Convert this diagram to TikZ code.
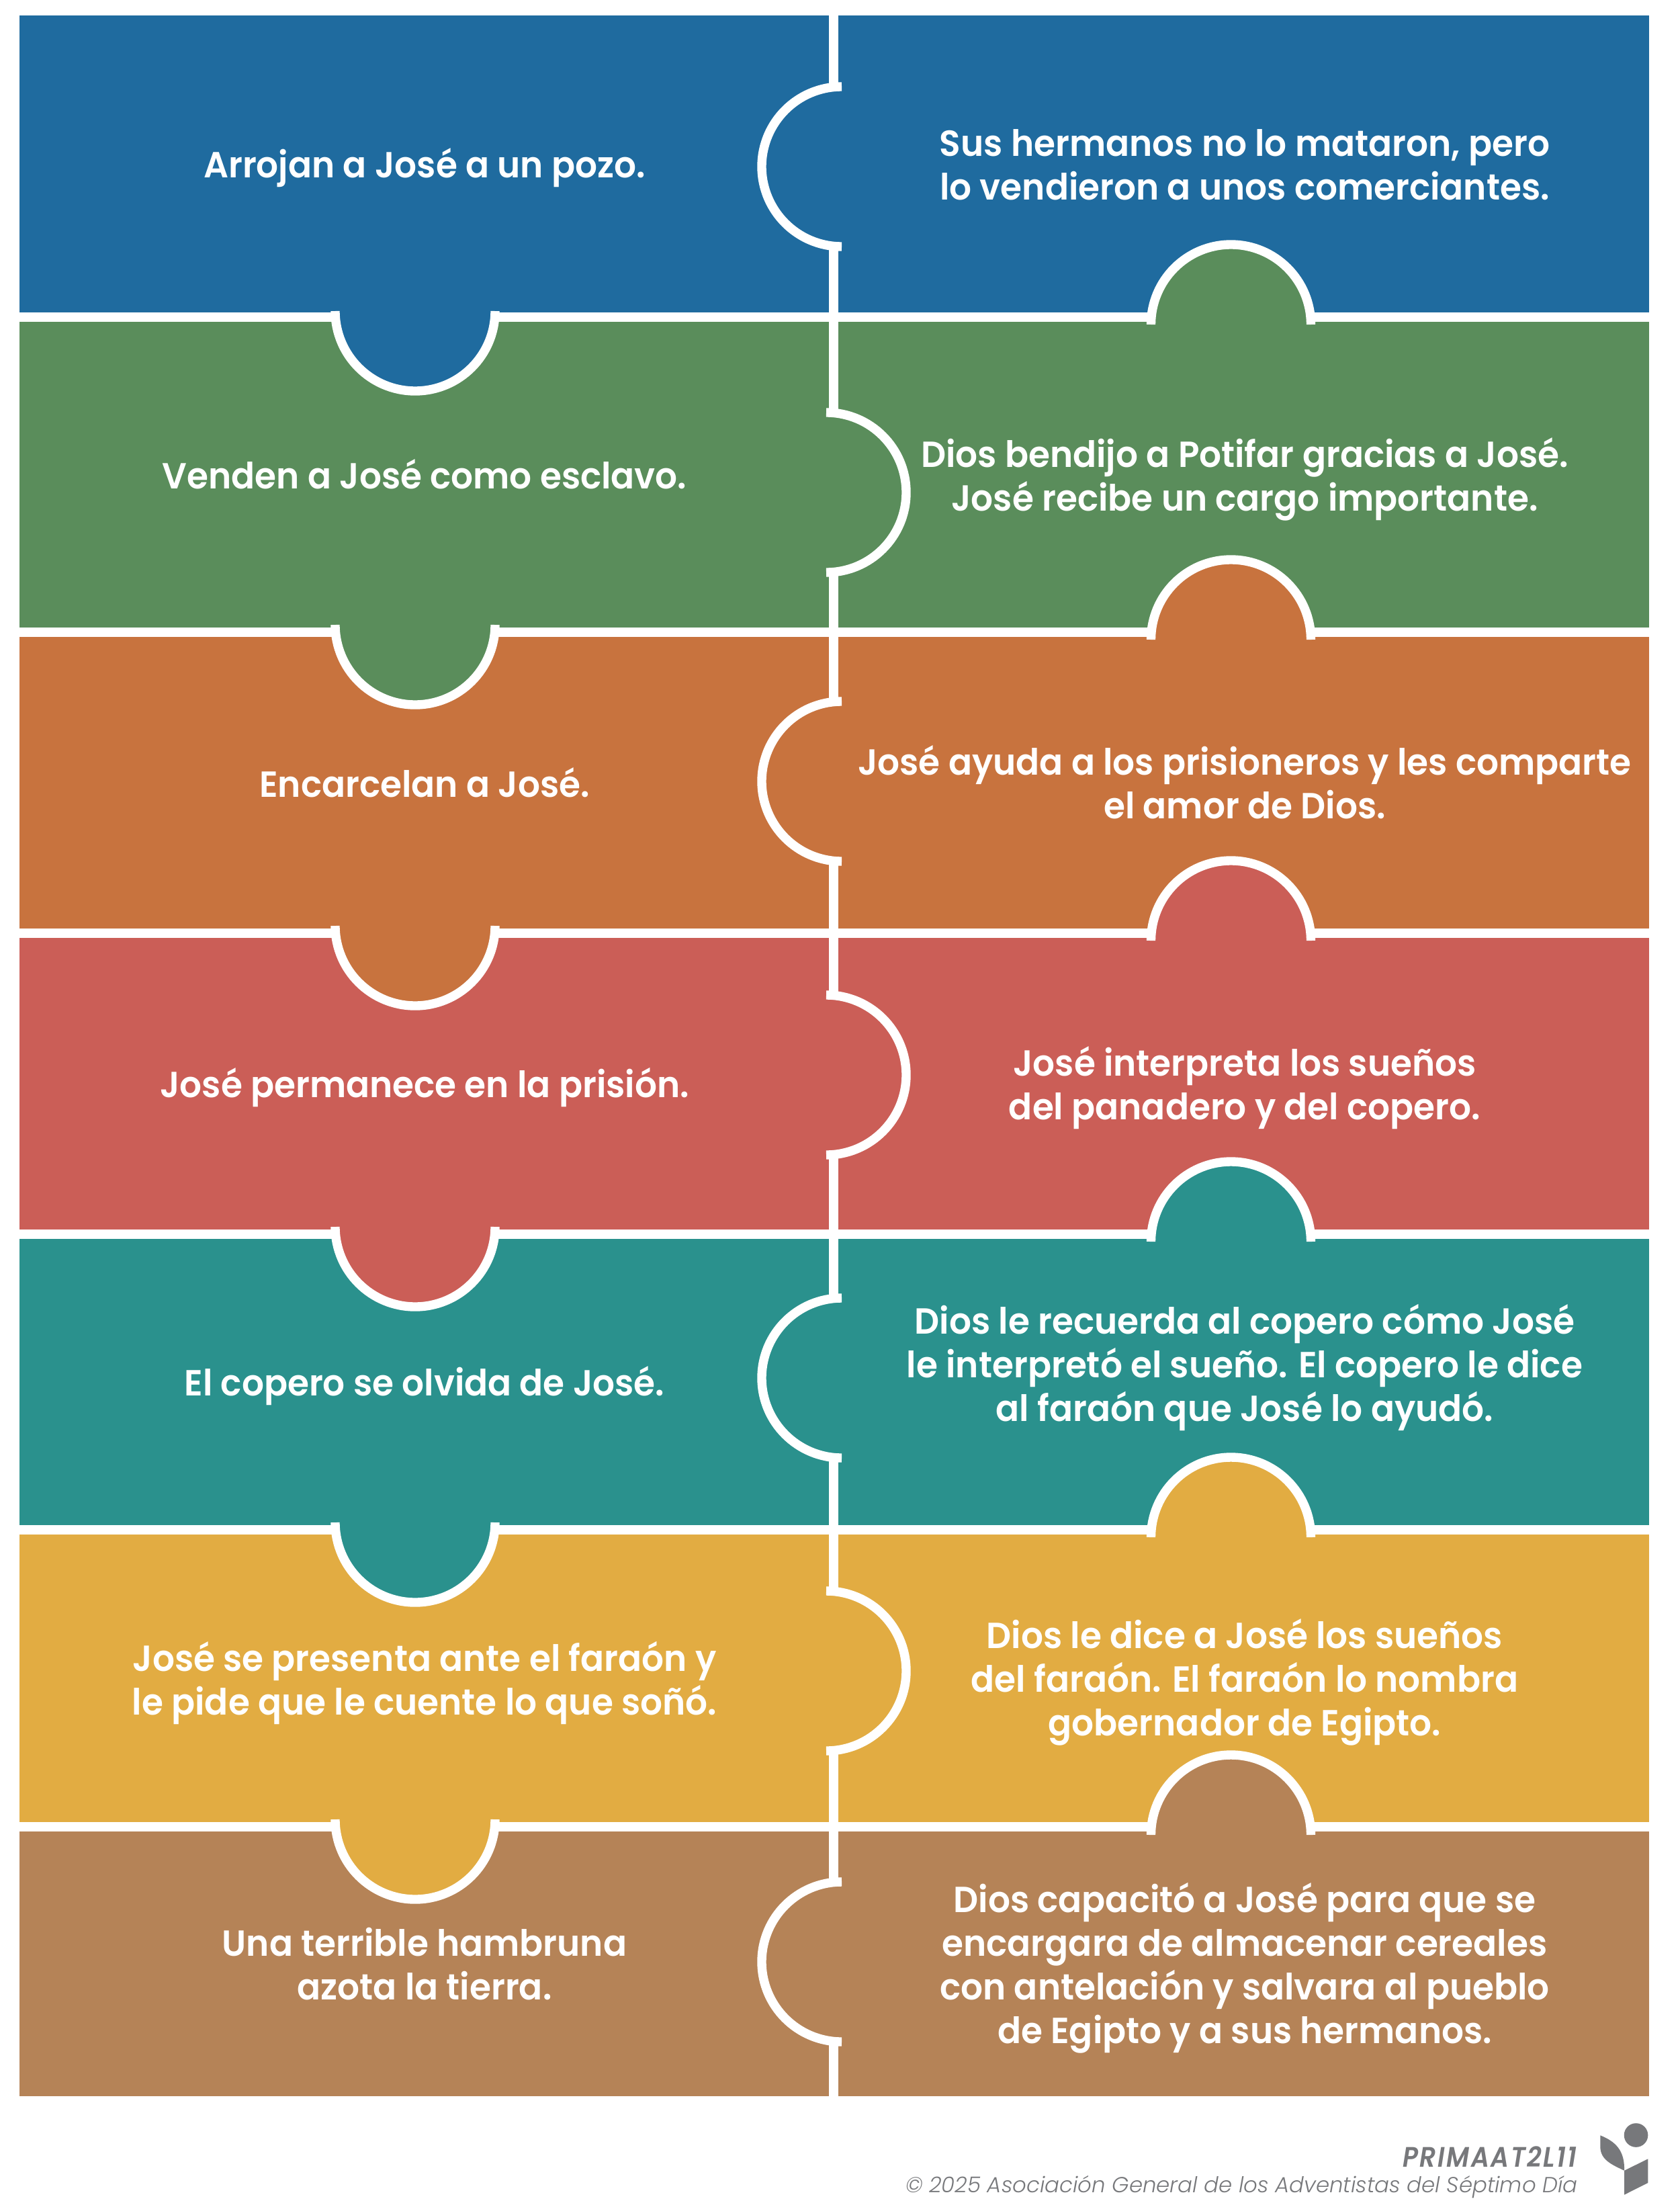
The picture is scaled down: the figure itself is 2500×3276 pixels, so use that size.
\documentclass[tikz,border=0pt]{standalone}
\usepackage{fontspec}
\setmainfont{Poppins}[BoldFont={Poppins SemiBold},FakeStretch=0.958]
\newfontfamily\footfont{Poppins Light}[ItalicFont={Poppins Light Italic}]
\newfontfamily\codefont{Poppins}[ItalicFont={Poppins SemiBold Italic},FakeStretch=0.9]
\definecolor{cblue}{HTML}{1F6B9F}
\definecolor{cgreen}{HTML}{5A8D5B}
\definecolor{corange}{HTML}{C8733E}
\definecolor{cred}{HTML}{CB5E57}
\definecolor{cteal}{HTML}{2A918D}
\definecolor{cyellow}{HTML}{E2AC42}
\definecolor{cbrown}{HTML}{B58357}
\definecolor{cgrey}{HTML}{77787B}
\tikzset{
  x=0.5pt,y=-0.5pt,
  seam/.style={white,line width=7pt},
  arcseam/.style={white,line width=6.7pt},
  lbl/.style={text=white,align=center,font=\bfseries\fontsize{27}{32.5}\selectfont,inner sep=0pt},
  tabarc/.style={x radius=119,y radius=-119},
}
\begin{document}
\begin{tikzpicture}
\useasboundingbox (0,0) rectangle (2500,3276);
\fill[white] (0,0) rectangle (2500,3276);
% row bands
\foreach \ya/\yb/\col in {23/465/cblue,479/934/cgreen,948/1382/corange,1396/1830/cred,1844/2270/cteal,2284/2712/cyellow,2726/3120/cbrown}
  \fill[\col] (29,\ya) rectangle (2455,\yb);
% vertical seam pieces
\foreach \ya/\yb in {23/129,367/614,852/1044,1281/1481,1719/1932,2170/2368,2606/2801,3039/3120}
  \draw[seam] (1241,\ya) -- (1241,\yb);
% tabs of the left column, pointing down
\foreach \yc/\col in {463/cblue,930/cgreen,1378/corange,1826/cred,2266/cteal,2708/cyellow}{
  \fill[\col] (499,\yc) arc[start angle=180,end angle=360,tabarc] -- cycle;
  \draw[arcseam] (499,\yc) arc[start angle=180,end angle=360,tabarc];
}
% tabs of the right column, pointing up
\foreach \yc/\col in {483/cgreen,952/corange,1400/cred,1848/cteal,2288/cyellow,2731/cbrown}{
  \fill[\col] (1713.5,\yc) arc[start angle=180,end angle=0,tabarc] -- cycle;
  \draw[arcseam] (1713.5,\yc) arc[start angle=180,end angle=0,tabarc];
}
% bulges on the middle seam
\foreach \yc in {248,1163,2051,2920}
  \draw[arcseam] (1253,\yc-119) arc[start angle=90,end angle=270,tabarc];
\foreach \yc in {733,1600,2487}
  \draw[arcseam] (1230,\yc-119) arc[start angle=90,end angle=-90,tabarc];
% labels
\node[lbl] (l1) at (632,250) {Arrojan a José a un pozo.};
\node[lbl] (r1) at (1853,245) {Sus hermanos no lo mataron, pero\\lo vendieron a unos comerciantes.};
\node[lbl] (l2) at (632,706) {Venden a José como esclavo.};
\node[lbl] (r2) at (1853,713) {Dios bendijo a Potifar gracias a José.\\José recibe un cargo importante.};
\node[lbl] (l3) at (632,1165) {Encarcelan a José.};
\node[lbl] (r3) at (1853,1164) {José ayuda a los prisioneros y les comparte\\el amor de Dios.};
\node[lbl] (l4) at (632,1618) {José permanece en la prisión.};
\node[lbl] (r4) at (1853,1619) {José interpreta los sueños\\del panadero y del copero.};
\node[lbl] (l5) at (632,2063) {El copero se olvida de José.};
\node[lbl] (r5) at (1853,2035) {Dios le recuerda al copero cómo José\\le interpretó el sueño. El copero le dice\\al faraón que José lo ayudó.};
\node[lbl] (l6) at (632,2505) {José se presenta ante el faraón y\\le pide que le cuente lo que soñó.};
\node[lbl] (r6) at (1853,2504) {Dios le dice a José los sueños\\del faraón. El faraón lo nombra\\gobernador de Egipto.};
\node[lbl] (l7) at (632,2923) {Una terrible hambruna\\azota la tierra.};
\node[lbl] (r7) at (1853,2929) {Dios capacitó a José para que se\\encargara de almacenar cereales\\con antelación y salvara al pueblo\\de Egipto y a sus hermanos.};
% footer
\node[anchor=base east,inner sep=0pt,text=cgrey] (code) at (2348,3225)
  {\codefont\itshape\addfontfeature{LetterSpace=6}\fontsize{21}{25}\selectfont PRIMAAT2L11};
\node[anchor=base east,inner sep=0pt,text=cgrey] (copy) at (2349,3263)
  {\footfont\itshape\fontsize{16.2}{19}\selectfont © 2025 Asociación General de los Adventistas del Séptimo Día};
% logo
\fill[cgrey] (2435.5,3178) circle[radius=17.8];
\fill[cgrey] (2382.3,3178.3) .. controls (2404,3187) and (2419,3200) .. (2418,3230.7)
  .. controls (2400,3222) and (2382.3,3215) .. (2382.3,3195) -- cycle;
\fill[cgrey] (2418,3230.7) -- (2453.3,3213.3) -- (2453.3,3249) -- (2418,3266.7) -- cycle;
\end{tikzpicture}
\end{document}
